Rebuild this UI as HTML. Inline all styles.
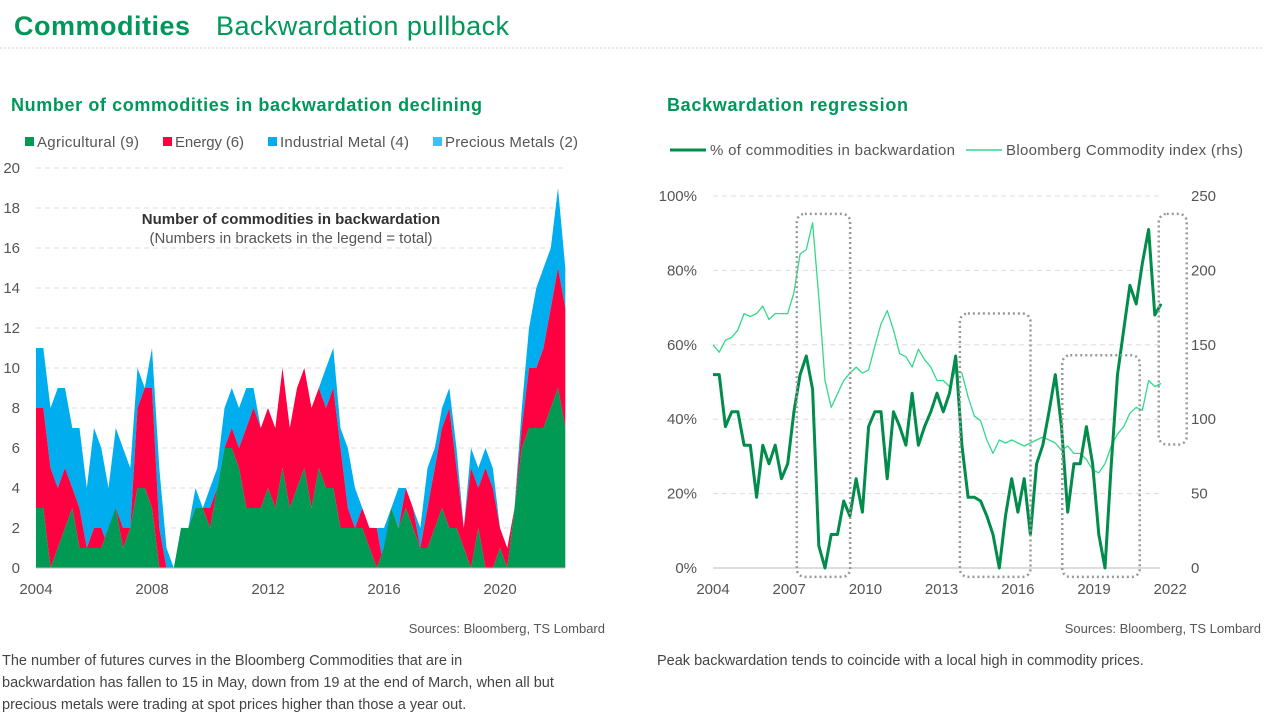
<!DOCTYPE html>
<html><head><meta charset="utf-8"><style>
html,body{margin:0;padding:0;background:#fff}
svg{display:block;font-family:"Liberation Sans",sans-serif}
</style></head><body>
<svg id="root" width="1273" height="721" viewBox="0 0 1273 721">
<text x="14" y="35" font-size="27" font-weight="bold" fill="#00975a" textLength="176">Commodities</text>
<text x="216" y="35" font-size="27" fill="#00975a" textLength="293">Backwardation pullback</text>
<line x1="0" y1="48" x2="1263" y2="48" stroke="#ccc" stroke-dasharray="2,2"/>

<text x="11" y="111" font-size="18" font-weight="bold" fill="#00975a" textLength="471">Number of commodities in backwardation declining</text>
<g font-size="15" fill="#555">
<rect x="25" y="137" width="9" height="9" fill="#009a55"/><text x="37" y="147" textLength="102">Agricultural (9)</text>
<rect x="163" y="137" width="9" height="9" fill="#ff0040"/><text x="175" y="147" textLength="69">Energy (6)</text>
<rect x="268" y="137" width="9" height="9" fill="#00aef0"/><text x="280" y="147" textLength="129">Industrial Metal (4)</text>
<rect x="433" y="137" width="9" height="9" fill="#36c2f5"/><text x="445" y="147" textLength="133">Precious Metals (2)</text>
</g>
<g id="left"></g>
<text x="605" y="633" font-size="13" fill="#555" text-anchor="end">Sources: Bloomberg, TS Lombard</text>
<text x="2" y="665" font-size="14.5" fill="#444">The number of futures curves in the Bloomberg Commodities that are in</text>
<text x="2" y="687" font-size="14.5" fill="#444">backwardation has fallen to 15 in May, down from 19 at the end of March, when all but</text>
<text x="2" y="709" font-size="14.5" fill="#444">precious metals were trading at spot prices higher than those a year out.</text>

<text x="667" y="111" font-size="18" font-weight="bold" fill="#00975a" textLength="241">Backwardation regression</text>
<g font-size="15" fill="#555">
<line x1="670" y1="150" x2="706" y2="150" stroke="#008c4a" stroke-width="3"/><text x="710" y="155" textLength="245">% of commodities in backwardation</text>
<line x1="966" y1="150" x2="1002" y2="150" stroke="#33d98a" stroke-width="1.5"/><text x="1006" y="155" textLength="237">Bloomberg Commodity index (rhs)</text>
</g>
<g id="right"></g>
<text x="1261" y="633" font-size="13" fill="#555" text-anchor="end">Sources: Bloomberg, TS Lombard</text>
<text x="657" y="665" font-size="14.5" fill="#444">Peak backwardation tends to coincide with a local high in commodity prices.</text>
</svg>
<script>
// ---- Left chart data (quarterly, 2004.0 step 0.25) ----
const leftStart = 2004.0;
const agri =     [3,3,0,1,2,3,1,1,1,1,2,3,1,2,4,4,3,0,0,0,2,2,3,3,2,4,6,6,5,3,3,3,4,3,5,3,4,5,3,5,4,4,2,2,2,2,1,0,1,3,2,3,2,1,1,2,3,2,2,1,0,2,0,0,1,0,3,6,7,7,7,8,9,7];
const energyTop =[8,8,5,4,5,4,3,1,2,2,1,3,2,2,8,9,9,2,0,0,2,2,3,3,3,4,6,7,6,7,8,7,8,7,10,7,9,10,8,9,8,9,6,3,2,3,2,2,0,3,2,4,3,1,3,5,7,8,5,2,5,4,5,4,2,1,3,7,10,10,11,13,15,13];
const total =    [11,11,8,9,9,7,7,4,7,6,4,7,6,5,10,9,11,5,1,0,2,2,4,3,4,5,8,9,8,9,9,7,8,7,10,7,9,10,8,9,10,11,7,6,4,3,2,2,2,3,4,4,3,2,5,6,8,9,6,2,6,5,6,5,2,1,3,8,12,14,15,16,19,15];
const leftYTicks = [0,2,4,6,8,10,12,14,16,18,20];
const leftXTicks = [2004,2008,2012,2016,2020];

// ---- Right chart data (2004.0 onward, ~quarterly) ----
const rightStart = 2004.0;
const rightStep = 0.245;
const backPct = [52,52,38,42,42,33,33,19,33,28,33,24,28,42,52,57,48,6,0,9,9,18,14,24,15,38,42,42,24,42,38,33,47,33,38,42,47,42,47,57,33,19,19,18,14,9,0,14,24,15,24,9,28,33,42,52,38,15,28,28,38,28,9,0,28,52,64,76,71,82,91,68,71];
const bcomIdx = [150,145,153,155,160,171,169,171,176,167,171,171,171,185,211,214,232,182,126,108,117,126,131,135,131,133,149,164,173,160,144,142,135,147,140,135,126,126,122,133,131,115,102,99,86,77,86,84,86,84,82,84,86,88,86,84,79,82,77,77,73,66,64,70,82,90,95,104,108,106,126,122,124];
const rightLeftTicks = [0,20,40,60,80,100];
const rightRightTicks = [0,50,100,150,200,250];
const rightXTicks = [2004,2007,2010,2013,2016,2019,2022];
// highlight boxes: [startYear, endYear, topRhs, bottomRhs]
const boxes = [[2007.3,2009.4,238,-6],[2013.72,2016.5,171,-6],[2017.75,2020.8,143,-6],[2021.55,2022.65,238,83]];

const NS="http://www.w3.org/2000/svg";
function mk(parent,tag,attrs){const e=document.createElementNS(NS,tag);for(const k in attrs)e.setAttribute(k,attrs[k]);parent.appendChild(e);return e;}

// Left axes
const L=document.getElementById('left');
const lx=t=>36+29*(t-2004);
const ly=v=>568-20*v;
leftYTicks.forEach(v=>{
  const g=mk(L,'line',{x1:36,x2:565,y1:ly(v),y2:ly(v),stroke:'#ddd','stroke-dasharray':'5,4'});
  
  
  const t=mk(L,'text',{x:20,y:ly(v)+5,'font-size':15,fill:'#555','text-anchor':'end'});t.textContent=v;
  
  
});
leftXTicks.forEach(y=>{
  const t=mk(L,'text',{x:lx(y),y:594,'font-size':15,fill:'#555','text-anchor':'middle'});t.textContent=y;
  
  
});
function area(top,bot,color,name){
  let d='';
  top.forEach((v,i)=>{d+=(i?'L':'M')+lx(leftStart+i*0.25).toFixed(1)+','+ly(v).toFixed(1);});
  for(let i=bot.length-1;i>=0;i--)d+='L'+lx(leftStart+i*0.25).toFixed(1)+','+ly(bot[i]).toFixed(1);
  const p=mk(L,'path',{d:d+'Z',fill:color});
  
  
}
const zeros=total.map(()=>0);
area(total,energyTop,'#00aef0','industrial-metal-area');
area(energyTop,agri,'#ff0040','energy-area');
area(agri,zeros,'#009a55','agricultural-area');
const ax=mk(L,'line',{x1:36,x2:565,y1:568,y2:568,stroke:'#bbb'});


const a1=mk(L,'text',{x:291,y:224,'font-size':15,'font-weight':'bold',fill:'#333','text-anchor':'middle'});a1.textContent='Number of commodities in backwardation';


const a2=mk(L,'text',{x:291,y:243,'font-size':15,fill:'#555','text-anchor':'middle'});a2.textContent='(Numbers in brackets in the legend = total)';



// Right chart
const R=document.getElementById('right');
const rx=t=>713+25.4*(t-2004);
const ryL=v=>568-3.72*v;
const ryR=v=>568-1.488*v;
rightRightTicks.forEach(v=>{
  const g=mk(R,'line',{x1:713,x2:1160,y1:ryR(v),y2:ryR(v),stroke:'#ddd','stroke-dasharray':'5,4'});
  
  
  const t=mk(R,'text',{x:1191,y:ryR(v)+5,'font-size':15,fill:'#555'});t.textContent=v;
  
  
});
rightLeftTicks.forEach(v=>{
  const t=mk(R,'text',{x:697,y:ryL(v)+5,'font-size':15,fill:'#555','text-anchor':'end'});t.textContent=v+'%';
  
  
});
rightXTicks.forEach(y=>{
  const t=mk(R,'text',{x:rx(y),y:594,'font-size':15,fill:'#555','text-anchor':'middle'});t.textContent=y;
  
  
});
const rax=mk(R,'line',{x1:713,x2:1160,y1:568,y2:568,stroke:'#bbb'});


function line(arr,yf,color,w,name){
  const pts=arr.map((v,i)=>rx(rightStart+i*rightStep).toFixed(1)+','+yf(v).toFixed(1)).join(' ');
  const p=mk(R,'polyline',{points:pts,fill:'none',stroke:color,'stroke-width':w,'stroke-linejoin':'round'});
  
  
}
line(bcomIdx,ryR,'#33d98a',1.3,'bcom-index-line');
line(backPct,ryL,'#008c4a',3,'backwardation-pct-line');
boxes.forEach(b=>{
  const r=mk(R,'rect',{x:rx(b[0]),y:ryR(b[2]),width:rx(b[1])-rx(b[0]),height:ryR(b[3])-ryR(b[2]),rx:8,fill:'none',stroke:'#999','stroke-width':2.5,'stroke-dasharray':'2,3'});
  
  
});
</script>
</body></html>
